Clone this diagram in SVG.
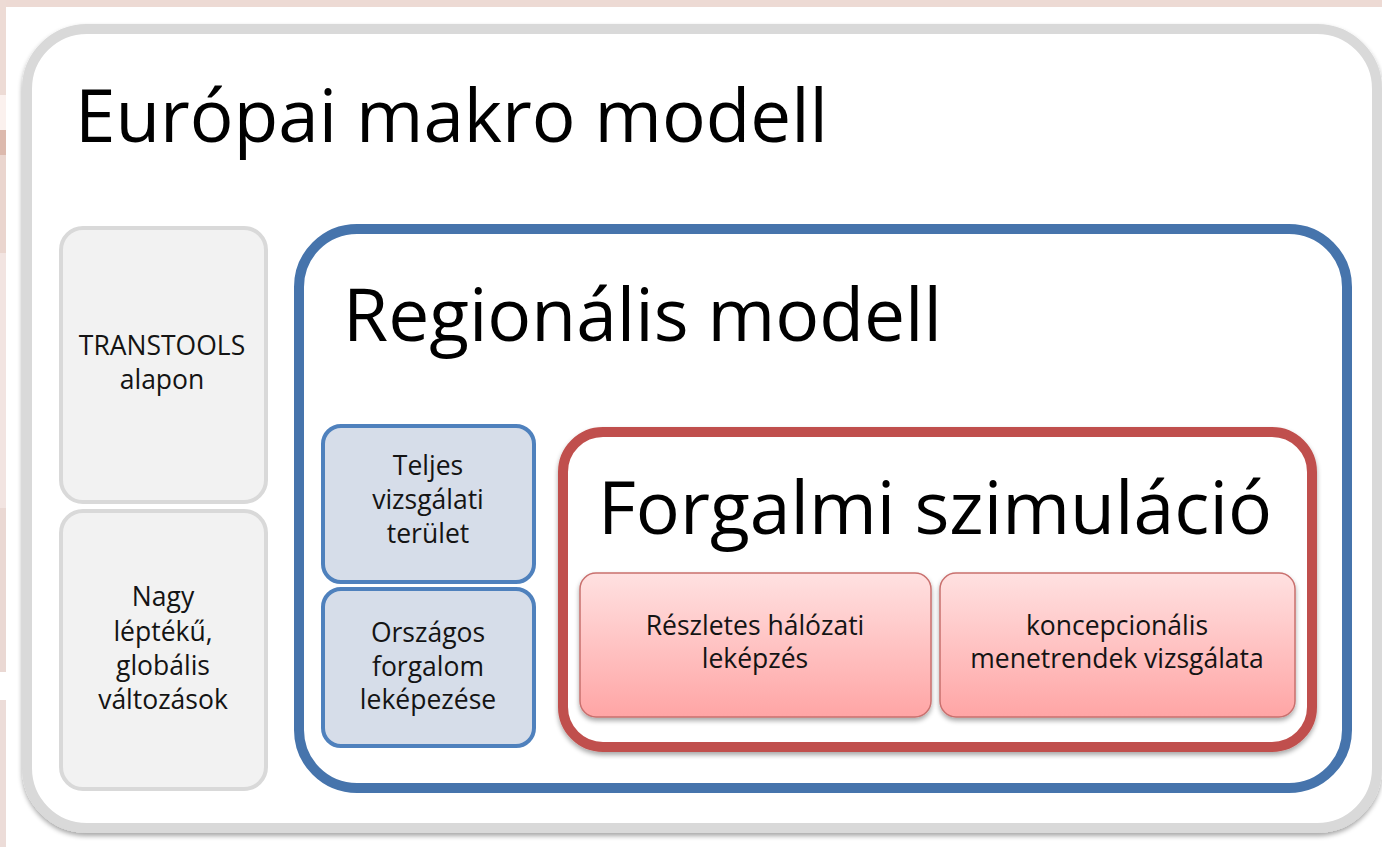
<svg xmlns="http://www.w3.org/2000/svg" width="1382" height="847" viewBox="0 0 1382 847">
<defs>
<style>
.big{font-family:"Open Sans","Noto Sans",sans-serif;font-size:73px;fill:#000;}
.sm{font-family:"Open Sans","Noto Sans",sans-serif;font-size:26.5px;font-weight:500;fill:#141414;text-anchor:middle;}
.gray{fill:#f2f2f2;stroke:#d9d9d9;stroke-width:4;}
.bluebox{fill:#d6dde9;stroke:#4f81bd;stroke-width:4;}
.pink{fill:url(#pg);stroke:#c9706e;stroke-width:1.5;filter:url(#sh);}
</style>
<linearGradient id="pg" x1="0" y1="0" x2="0" y2="1">
<stop offset="0" stop-color="#ffe1e1"/>
<stop offset="1" stop-color="#ffa5a5"/>
</linearGradient>
<filter id="sh" x="-10%" y="-10%" width="120%" height="130%">
<feGaussianBlur in="SourceAlpha" stdDeviation="2.5"/>
<feOffset dx="0" dy="3" result="b"/>
<feComponentTransfer><feFuncA type="linear" slope="0.35"/></feComponentTransfer>
<feMerge><feMergeNode/><feMergeNode in="SourceGraphic"/></feMerge>
</filter>
</defs>
<rect x="0" y="0" width="1382" height="847" fill="#ffffff"/>
<g id="background">
<rect x="0" y="0" width="1382" height="7" fill="#eddad4"/>
<rect x="0" y="0" width="6" height="95" fill="#eddbd5"/>
<rect x="0" y="95" width="6" height="35" fill="#fbf1ee"/>
<rect x="0" y="130" width="6" height="25" fill="#dcb9ad"/>
<rect x="0" y="155" width="6" height="98" fill="#ead5ce"/>
<rect x="0" y="253" width="6" height="255" fill="#f2e4e1"/>
<rect x="0" y="508" width="6" height="164" fill="#ead8d3"/>
<rect x="0" y="700" width="6" height="147" fill="#ecdcd8"/>
</g>
<g id="europai">
<rect x="27" y="29" width="1350" height="799" rx="60" fill="#ffffff" stroke="#d9d9d9" stroke-width="10" filter="url(#sh)"/>
<text class="big" x="75" y="142" textLength="753" lengthAdjust="spacingAndGlyphs">Európai makro modell</text>
</g>
<g id="transtools">
<rect class="gray" x="61" y="228" width="205" height="274" rx="22"/>
<text class="sm" x="162" y="355">TRANSTOOLS</text>
<text class="sm" x="162" y="389">alapon</text>
</g>
<g id="nagy">
<rect class="gray" x="61" y="511" width="205" height="278" rx="22"/>
<text class="sm" x="163" y="606">Nagy</text>
<text class="sm" x="163" y="641">léptékű,</text>
<text class="sm" x="163" y="675">globális</text>
<text class="sm" x="163" y="709">változások</text>
</g>
<g id="regionalis">
<rect x="299" y="229" width="1048" height="559" rx="58" fill="#ffffff" stroke="#4674ac" stroke-width="10"/>
<text class="big" x="343" y="341" textLength="599" lengthAdjust="spacingAndGlyphs">Regionális modell</text>
</g>
<g id="teljes">
<rect class="bluebox" x="323" y="426" width="211" height="156" rx="18"/>
<text class="sm" x="428" y="475">Teljes</text>
<text class="sm" x="428" y="509">vizsgálati</text>
<text class="sm" x="428" y="543">terület</text>
</g>
<g id="orszagos">
<rect class="bluebox" x="323" y="589" width="211" height="157" rx="18"/>
<text class="sm" x="428" y="642">Országos</text>
<text class="sm" x="428" y="676">forgalom</text>
<text class="sm" x="428" y="709">leképezése</text>
</g>
<g id="forgalmi">
<rect x="563" y="432" width="749" height="315" rx="40" fill="#ffffff" stroke="#c0504d" stroke-width="10" filter="url(#sh)"/>
<text class="big" x="598" y="534" textLength="674" lengthAdjust="spacingAndGlyphs">Forgalmi szimuláció</text>
</g>
<g id="reszletes">
<rect class="pink" x="580" y="573" width="351" height="144" rx="16"/>
<text class="sm" x="755" y="635">Részletes hálózati</text>
<text class="sm" x="755" y="668">leképzés</text>
</g>
<g id="koncepcionalis">
<rect class="pink" x="940" y="573" width="355" height="144" rx="16"/>
<text class="sm" x="1117" y="635">koncepcionális</text>
<text class="sm" x="1117" y="668">menetrendek vizsgálata</text>
</g>
<g id="connectors"/>
</svg>
